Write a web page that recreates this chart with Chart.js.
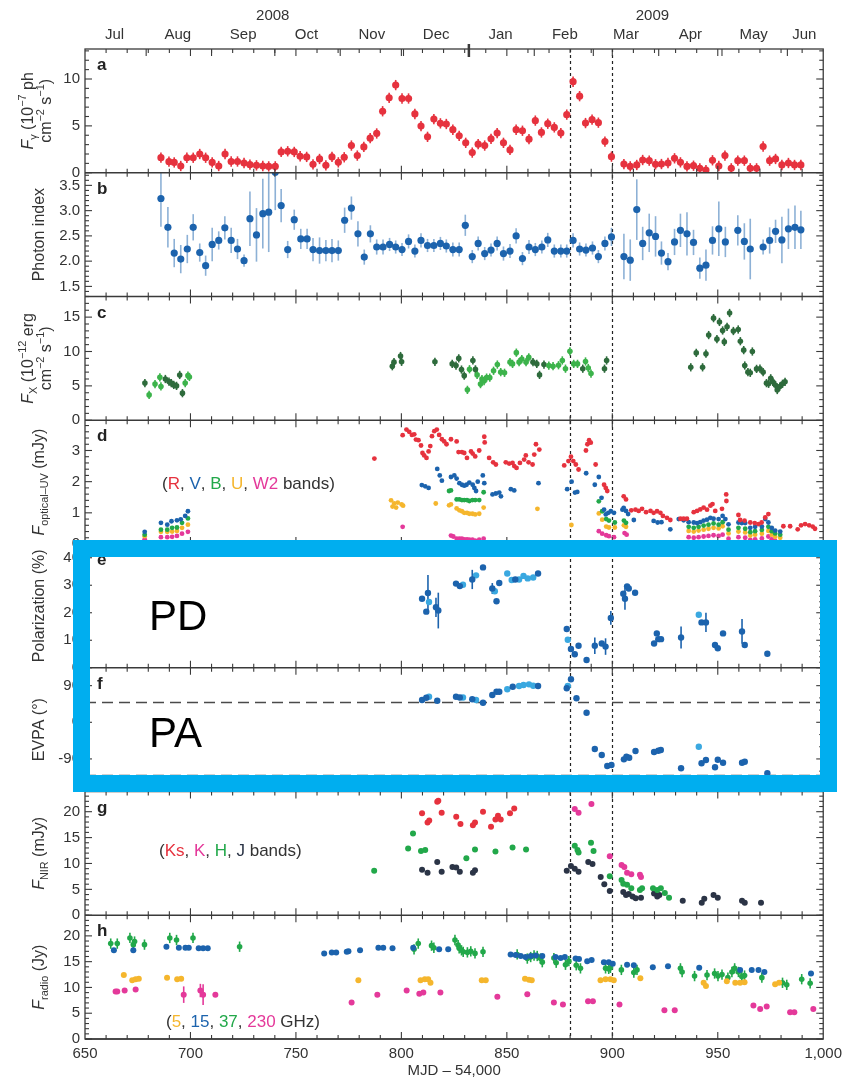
<!DOCTYPE html>
<html>
<head>
<meta charset="utf-8">
<script src="https://cdn.jsdelivr.net/npm/chart.js@4.4.1/dist/chart.umd.min.js"></script>
<style>
  html, body { margin: 0; padding: 0; background: #fff; }
  canvas { display: block; }
</style>
</head>
<body>
<canvas id="chart" width="848" height="1082"></canvas>
<script>
// ---- axis labels ----
const monthMid = [664, 694, 725, 755, 786, 816.5, 847, 877.5, 906.5, 937, 967, 991];
const monthNames = ['Jul', 'Aug', 'Sep', 'Oct', 'Nov', 'Dec', 'Jan', 'Feb', 'Mar', 'Apr', 'May', 'Jun'];
const monthStart = [679, 710, 740, 771, 801, 863, 891, 922, 952, 983];
const yearStart = 832;
const yearNames = ['2008', '2009'];
const yearMid = [739, 919];
const mjdTicks = [650, 700, 750, 800, 850, 900, 950, 1000];
const flareMJD = [880, 900];
const evpaRef = [50, -130];

// ---- a: gamma-ray flux (MJD, flux) ----
const gammaErr = 0.55;
const gammaPts = [[686.0,1.61],[689.8,1.18],[692.3,1.1],[695.4,0.72],[698.3,1.6],[701.3,1.6],[704.4,2.0],[707.2,1.6],[710.3,1.1],[713.4,0.72],[716.4,2.0],[719.3,1.2],[722.3,1.2],[725.4,1.04],[728.2,0.86],[731.3,0.79],[734.3,0.72],[737.1,0.68],[740.2,0.68],[743.0,2.22],[746.1,2.29],[749.2,2.22],[752.0,1.76],[755.1,1.69],[758.1,0.9],[761.2,1.47],[764.2,0.79],[767.1,1.69],[770.1,1.11],[772.9,1.65],[776.3,2.9],[779.1,1.83],[782.2,2.76],[785.2,3.69],[788.3,4.19],[791.1,6.56],[794.2,7.99],[797.3,9.35],[800.3,7.92],[803.4,7.92],[806.4,6.27],[809.3,4.98],[812.4,3.83],[815.4,5.73],[818.5,5.27],[821.3,5.2],[824.4,4.59],[827.4,3.94],[830.5,3.19],[833.6,2.15],[836.4,3.05],[839.5,2.9],[842.5,3.62],[845.4,4.23],[848.4,3.19],[851.5,2.44],[854.4,4.59],[857.4,4.48],[860.5,3.58],[863.5,5.56],[866.4,4.3],[869.4,5.23],[872.5,4.84],[875.6,4.23],[878.4,6.2],[881.4,9.71],[884.5,8.17],[887.3,5.3],[890.4,5.66],[893.4,5.34],[896.5,3.33],[899.6,1.72],[905.5,0.93],[908.5,0.68],[911.6,0.83],[914.4,1.36],[917.5,1.29],[920.5,0.9],[923.3,0.93],[926.4,1.04],[929.5,1.54],[932.3,1.11],[935.4,0.68],[938.5,0.75],[941.5,0.47],[944.4,0.29],[947.5,1.33],[950.5,0.72],[953.4,1.83],[956.4,0.47],[959.5,1.29],[962.6,1.29],[965.4,0.47],[968.4,0.47],[971.5,2.8],[974.6,1.29],[977.4,1.47],[980.4,0.83],[983.5,1.04],[986.4,0.83],[989.4,0.83]];

// ---- b: photon index (MJD, index, error) ----
const indexPts = [[686.0,3.24,0.56],[689.3,2.67,0.40],[692.3,2.16,0.28],[695.4,2.04,0.28],[698.5,2.24,0.28],[701.3,2.67,0.26],[704.4,2.17,0.18],[707.2,1.91,0.2],[710.3,2.33,0.33],[713.4,2.41,0.18],[716.3,2.66,0.23],[719.3,2.41,0.25],[722.3,2.24,0.2],[725.4,2.01,0.12],[728.2,2.84,0.54],[731.3,2.52,0.53],[734.3,2.94,0.69],[737.1,2.97,0.79],[740.2,3.76,0.75],[743.0,3.1,0.33],[746.1,2.23,0.17],[749.2,2.82,0.2],[752.3,2.44,0.2],[755.3,2.44,0.2],[758.1,2.23,0.23],[761.2,2.21,0.26],[764.2,2.21,0.21],[767.1,2.21,0.23],[770.1,2.21,0.2],[773.1,2.81,0.25],[776.3,3.05,0.23],[779.4,2.54,0.25],[782.4,2.08,0.15],[785.3,2.54,0.17],[788.3,2.28,0.15],[791.3,2.28,0.15],[794.4,2.33,0.13],[797.3,2.28,0.13],[800.3,2.23,0.13],[803.4,2.39,0.14],[806.4,2.2,0.13],[809.3,2.41,0.14],[812.4,2.31,0.13],[815.4,2.31,0.13],[818.5,2.35,0.13],[821.3,2.3,0.13],[824.4,2.23,0.14],[827.4,2.23,0.14],[830.3,2.71,0.21],[833.6,2.09,0.13],[836.4,2.35,0.14],[839.5,2.15,0.13],[842.5,2.22,0.13],[845.4,2.35,0.14],[848.4,2.15,0.14],[851.5,2.2,0.14],[854.4,2.5,0.15],[857.4,2.05,0.13],[860.5,2.28,0.14],[863.5,2.23,0.13],[866.6,2.28,0.13],[869.4,2.42,0.14],[872.5,2.2,0.13],[875.6,2.2,0.13],[878.4,2.2,0.13],[881.4,2.41,0.14],[884.5,2.24,0.13],[887.5,2.22,0.13],[890.6,2.26,0.13],[893.4,2.09,0.13],[896.5,2.35,0.14],[899.6,2.48,0.18],[905.5,2.09,0.45],[908.5,2.02,0.41],[911.6,3.02,0.6],[914.4,2.35,0.33],[917.5,2.56,0.38],[920.5,2.49,0.4],[923.3,2.16,0.23],[926.4,1.99,0.17],[929.5,2.38,0.26],[932.3,2.61,0.33],[935.4,2.54,0.43],[938.5,2.37,0.25],[941.5,1.86,0.21],[944.4,1.92,0.31],[947.5,2.41,0.28],[950.5,2.64,0.54],[953.6,2.38,0.3],[959.5,2.61,0.3],[962.6,2.39,0.36],[965.4,2.24,0.6],[971.5,2.28,0.15],[974.6,2.41,0.26],[977.4,2.59,0.23],[980.4,2.42,0.46],[983.5,2.64,0.4],[986.6,2.67,0.43],[989.4,2.62,0.38]];

// ---- c: X-ray flux (MJD, flux) ----
const xrayErr = 0.6;
const xrayDark = [[678.4,5.41],[688.1,6.0],[689.8,5.63],[690.9,5.4],[692.1,5.14],[693.4,5.0],[694.9,6.59],[696.2,3.94],[795.7,7.86],[796.5,8.45],[799.6,9.34],[800.1,8.5],[815.9,8.5],[824.1,8.2],[825.9,7.96],[827.2,9.0],[828.5,7.37],[829.8,6.49],[833.9,8.7],[835.1,7.4],[862.4,8.45],[864.2,8.2],[865.5,6.6],[867.6,8.1],[886.0,7.5],[896.3,7.5],[897.3,8.7],[937.2,7.7],[939.8,9.8],[942.8,7.7],[944.4,9.68],[945.7,12.39],[948.0,14.85],[949.6,11.8],[950.8,14.3],[952.3,13.06],[953.1,11.4],[954.4,13.6],[955.6,15.6],[957.4,12.98],[959.7,13.2],[960.7,11.5],[962.3,10.2],[962.8,7.96],[964.3,7.0],[965.4,6.9],[966.4,10.0],[968.4,7.47],[970.0,7.5],[971.5,7.0],[973.1,5.4],[974.1,5.3],[975.1,6.1],[976.1,5.6],[977.4,5.1],[978.2,4.4],[979.4,4.9],[980.7,5.3],[981.9,5.6]];
const xrayLight = [[680.4,3.69],[683.2,5.26],[685.5,6.24],[686.0,4.92],[697.5,5.41],[698.8,6.49],[699.5,6.3],[831.3,4.42],[832.3,7.42],[835.9,6.6],[837.5,5.26],[838.2,6.0],[839.2,5.7],[840.4,6.2],[841.9,6.2],[843.7,7.2],[845.5,8.1],[847.1,7.0],[848.9,6.9],[851.5,8.45],[852.7,8.2],[854.5,9.83],[855.8,8.45],[857.1,8.9],[859.1,8.45],[860.4,9.14],[869.9,7.96],[871.9,7.86],[874.5,8.0],[876.3,8.7],[877.8,7.5],[879.9,10.03],[881.7,8.2],[883.5,8.2],[887.3,8.55],[888.6,7.6],[889.9,6.8]];

// ---- d: optical-UV flux (MJD, mJy) ----
const bandR = [[787.2,2.74],[800.6,3.49],[802.4,3.67],[803.7,3.6],[805.0,3.5],[806.1,3.52],[806.9,3.35],[808.1,3.33],[809.3,3.16],[810.0,2.92],[810.8,2.84],[811.9,2.76],[812.9,2.97],[813.7,3.14],[814.5,3.46],[815.6,3.62],[816.8,3.67],[817.9,3.5],[819.2,3.36],[820.3,3.29],[821.4,3.2],[823.5,3.36],[826.2,3.29],[827.1,2.95],[828.7,2.95],[829.8,2.92],[831.1,2.76],[833.0,2.97],[833.8,2.9],[835.0,2.81],[836.9,3.0],[839.3,3.44],[839.5,3.26],[841.6,2.76],[843.5,2.62],[844.8,2.55],[849.5,2.62],[851.1,2.58],[852.7,2.6],[853.5,2.5],[854.6,2.44],[856.2,2.6],[858.2,2.71],[859.0,2.84],[860.3,2.62],[862.2,2.55],[863.0,2.87],[863.8,3.2],[865.4,3.03],[877.2,2.52],[879.2,2.66],[880.4,2.8],[881.5,2.66],[882.7,2.55],[884.0,2.39],[887.5,3.0],[888.2,3.2],[889.0,3.33],[889.8,3.25],[892.1,2.55],[896.1,1.9],[896.9,1.8],[897.6,1.7],[905.4,1.53],[906.5,1.43],[909.0,1.08],[911.0,1.1],[912.5,1.06],[914.1,1.13],[916.0,1.02],[918.1,1.06],[919.6,1.0],[921.2,1.05],[922.8,1.0],[924.0,0.9],[925.9,0.84],[927.5,0.77],[932.3,0.81],[933.8,0.81],[935.4,0.81],[938.6,1.02],[940.2,1.06],[941.7,1.11],[943.3,1.17],[944.9,1.1],[946.5,1.23],[947.5,1.28],[948.8,1.06],[952.0,1.13],[954.0,1.59],[954.1,1.38],[959.8,0.93],[960.6,0.77],[962.7,0.75],[965.4,0.69],[967.5,0.67],[969.3,0.64],[970.8,0.69],[972.5,0.85],[974.0,0.96],[981.1,0.57],[984.3,0.57],[987.9,0.47],[989.5,0.6],[991.4,0.64],[993.3,0.6],[995.0,0.56],[996.1,0.49]];
const bandV = [[678.3,0.39],[686.0,0.68],[689.0,0.62],[691.0,0.73],[693.6,0.76],[695.4,0.79],[697.5,0.9],[698.8,1.05],[809.7,1.89],[811.3,1.85],[812.9,1.8],[817.0,2.41],[818.2,2.2],[819.2,2.03],[823.5,2.15],[825.1,2.2],[826.2,2.1],[827.5,1.95],[828.7,1.9],[829.8,1.87],[830.9,1.9],[832.2,1.97],[833.8,1.9],[834.6,1.8],[835.4,1.7],[836.2,2.0],[838.6,2.2],[839.3,1.95],[843.2,1.59],[844.8,1.62],[846.4,1.65],[847.2,1.53],[851.9,1.76],[853.5,1.72],[865.0,1.95],[878.6,1.76],[880.7,2.0],[882.3,1.65],[883.4,1.67],[887.6,2.27],[891.7,1.9],[893.6,2.15],[894.9,1.48],[896.1,1.1],[896.9,0.95],[898.1,1.0],[899.3,1.05],[900.8,1.0],[904.8,1.1],[905.4,1.16],[906.5,1.06],[907.5,0.96],[910.2,0.77],[919.6,0.74],[921.5,0.69],[923.3,0.7],[927.5,0.47],[931.5,0.8],[933.8,0.76],[936.2,0.7],[938.6,0.69],[940.2,0.67],[941.7,0.7],[943.3,0.75],[944.9,0.78],[946.5,0.84],[948.0,0.81],[950.4,0.8],[952.3,0.9],[953.6,0.8],[955.1,0.63],[959.8,0.69],[961.4,0.67],[963.0,0.67],[965.4,0.52],[967.7,0.55],[970.9,0.56],[972.5,0.8],[974.0,0.69],[975.6,0.52],[977.2,0.43],[979.6,0.4]];
const bandB = [[678.3,0.3],[686.0,0.46],[689.0,0.46],[691.3,0.52],[693.6,0.53],[696.0,0.68],[698.8,0.82],[822.6,1.7],[823.5,1.72],[826.2,1.43],[827.5,1.43],[828.7,1.41],[829.8,1.41],[831.1,1.41],[832.2,1.38],[833.7,1.41],[835.0,1.41],[836.9,1.41],[839.0,1.66],[893.6,1.37],[895.2,1.05],[897.1,0.8],[898.4,0.75],[901.2,0.69],[905.5,0.75],[906.5,0.68],[936.2,0.55],[938.6,0.52],[940.9,0.55],[943.3,0.59],[945.6,0.62],[948.0,0.66],[950.4,0.62],[952.3,0.7],[955.1,0.46],[959.8,0.52],[963.0,0.49],[965.4,0.38],[967.7,0.41],[970.9,0.45],[974.0,0.55],[975.6,0.41],[977.2,0.34],[979.6,0.3]];
const bandU = [[678.3,0.25],[686.0,0.39],[689.0,0.39],[691.3,0.4],[693.6,0.42],[696.0,0.52],[698.8,0.62],[795.1,1.4],[795.8,1.2],[796.6,1.3],[797.5,1.17],[798.3,1.33],[800.1,1.27],[800.8,1.23],[816.3,1.3],[822.6,1.24],[823.5,1.27],[826.2,1.14],[827.5,1.08],[828.7,1.05],[829.8,1.0],[831.1,1.0],[832.2,0.97],[833.7,0.97],[835.0,0.95],[836.9,0.97],[839.0,1.17],[864.5,1.13],[880.6,0.61],[893.6,0.98],[895.2,0.78],[897.1,0.56],[898.4,0.53],[901.2,0.53],[905.5,0.6],[906.5,0.55],[936.2,0.42],[938.6,0.4],[940.9,0.43],[943.3,0.46],[945.6,0.49],[948.0,0.52],[950.4,0.5],[952.3,0.57],[955.1,0.34],[959.8,0.4],[963.0,0.37],[965.4,0.27],[967.7,0.3],[970.9,0.33],[974.0,0.42],[975.6,0.3],[977.2,0.23],[979.6,0.2]];
const bandW2 = [[678.3,0.15],[686.0,0.22],[689.0,0.22],[691.3,0.23],[693.6,0.26],[696.0,0.33],[698.8,0.39],[800.6,0.55],[823.5,0.27],[824.6,0.24],[826.2,0.17],[827.5,0.17],[828.7,0.17],[829.8,0.15],[831.1,0.15],[832.2,0.14],[833.7,0.14],[835.0,0.11],[836.9,0.14],[839.0,0.17],[893.6,0.41],[895.2,0.33],[897.1,0.28],[898.4,0.25],[900.8,0.22],[905.8,0.35],[906.8,0.3],[936.2,0.22],[938.6,0.2],[940.9,0.22],[943.3,0.24],[945.6,0.26],[948.0,0.28],[950.4,0.26],[952.3,0.3],[955.1,0.17],[959.8,0.22],[963.0,0.2],[965.4,0.13],[967.7,0.15],[970.9,0.18],[974.0,0.24],[975.6,0.15],[977.2,0.1]];

// ---- e: polarization degree (MJD, %, error) ----
const pdDark = [[809.8,25.1],[811.8,20.4],[812.6,27.2,6.5],[816.4,22,3.5],[817.5,20.8,6.5],[825.9,30.6],[827.7,29.7],[833.6,32.1,3.5],[838.7,36.5],[843.1,28.8,2],[845.1,24.2],[846.4,30.8],[854.0,32.1],[864.8,34.3],[878.4,14.1],[880.4,6.8],[882.2,4.9],[884.0,8.0],[887.8,2.8],[891.7,8.0,3],[895.0,8.8],[896.8,7.7,3],[899.3,18.1,2.5],[905.2,26.9],[906.0,25.1,4],[907.0,29.6],[907.8,28.8],[910.8,27.3],[919.8,8.8],[921.1,12.5],[921.8,10.4],[923.1,10.4],[932.6,11.0,4],[942.3,16.5],[944.4,16.5,3.5],[948.7,8.3],[950.0,7.1],[952.5,12.5],[961.5,13.2,4.5],[962.8,8.3],[973.5,5.1]];
const pdLight = [[813.1,23.9],[829.2,30.2],[835.4,33.6],[844.3,27.8],[850.2,34.3],[852.3,31.9],[855.8,32.1],[857.9,33.4],[859.9,32.5],[862.5,32.8],[878.9,10.2],[941.0,19.3]];

// ---- f: EVPA (MJD, deg) ----
const paDark = [[809.8,54.8],[811.8,60.4],[817.0,53.1],[825.9,62.9],[827.7,61],[833.6,56.5],[838.7,48.2],[843.1,67],[845.1,75.2],[846.4,75.2],[852.8,87.5],[864.8,89.2],[878.4,83.5],[880.4,105.6],[883.0,59],[887.8,23.6],[891.7,-65.6],[895.0,-80.3],[897.6,-107.4],[899.6,-105],[905.5,-91],[906.7,-84.5],[908.0,-87],[911.0,-70.5],[919.8,-72.8],[921.8,-70],[923.0,-68],[932.6,-113],[942.3,-100.7],[944.4,-92.6],[948.7,-110.6],[950.0,-92],[952.5,-99.3],[961.5,-99.3],[962.8,-97],[973.5,-125.3]];
const paLight = [[813.1,62.9],[829.2,61],[835.4,54.8],[850.2,81],[855.8,89.2],[857.9,91.6],[860.5,93.2],[862.5,89.9],[878.9,89],[941.0,-60]];

// ---- g: near-IR flux (MJD, mJy) ----
const nirKs = [[809.8,19.7],[812.4,17.9],[813.2,18.3],[817.0,21.9],[817.5,22.1],[819.1,19.8],[826.0,19.0],[828.0,17.6],[833.9,17.4],[834.9,17.9],[838.7,20.0],[842.5,17.1],[844.6,18.5],[845.8,19.2],[847.1,18.5],[851.5,19.7],[853.5,20.6]];
const nirK = [[882.2,20.5],[884.0,19.8],[890.1,21.5],[898.8,11.4],[904.4,9.7],[905.7,9.3],[907.0,8.2],[909.0,7.9],[913.1,7.8],[913.6,7.4]];
const nirH = [[787.1,8.6],[803.2,12.9],[805.5,15.8],[809.3,12.4],[811.3,12.6],[830.8,11.0],[834.9,12.7],[844.6,12.3],[852.7,13.1],[859.1,12.7],[882.2,13.4],[883.5,12.6],[884.0,12.1],[889.9,14.0],[891.1,12.4],[898.8,7.55],[904.4,6.8],[905.2,6.1],[907.0,5.9],[909.0,5.2],[913.1,4.9],[914.1,5.2],[919.3,5.2],[921.3,4.9],[923.0,5.2],[924.9,4.3],[926.9,3.4]];
const nirJ = [[809.8,8.8],[812.4,8.2],[817.0,10.3],[819.1,8.4],[824.2,9.3],[826.0,9.2],[827.7,8.4],[833.9,8.2],[834.9,8.7],[878.4,8.6],[880.4,9.5],[882.2,9.0],[884.0,8.4],[888.6,10.3],[890.6,9.9],[894.5,7.4],[896.2,6.0],[898.8,4.7],[905.2,4.5],[906.5,3.9],[907.8,4.1],[909.6,3.6],[911.1,3.3],[913.6,3.4],[919.8,4.2],[921.3,3.6],[922.3,3.9],[933.4,2.8],[942.4,2.4],[943.6,3.2],[948.0,3.9],[950.0,3.4],[961.5,2.8],[962.8,2.4],[970.5,2.4]];

// ---- h: radio flux (MJD, Jy, error) ----
const ghz37Err = 1.0;
const ghz5 = [[668.4,12.4],[672.4,11.4],[674.0,11.6],[675.5,11.7],[688.9,11.9],[693.7,11.6],[695.6,11.7],[779.6,11.4],[809.1,11.4],[811.1,11.6],[812.7,11.6],[813.8,10.9],[838.1,11.4],[840.0,11.4],[858.6,11.7],[860.5,11.5],[861.8,11.4],[894.4,11.4],[896.8,11.6],[899.1,11.6],[900.7,11.4],[913.3,11.8],[943.3,10.9],[944.4,10.3],[954.3,11.2],[958.3,10.9],[960.6,10.9],[962.7,11.0],[977.2,10.6],[979.1,10.9]];
const ghz15 = [[663.7,17.2],[672.9,17.2],[688.6,17.9],[694.5,17.7],[697.6,17.7],[699.2,17.7],[703.9,17.6],[706.0,17.6],[708.2,17.6],[763.4,16.6],[767.0,16.8],[769.1,16.8],[774.1,16.9],[774.9,17.0],[780.4,17.2],[789.1,17.7],[791.4,17.7],[795.8,17.6],[805.6,17.7],[817.9,17.4],[822.2,17.4],[851.8,16.4],[854.2,16.3],[856.6,16.1],[858.9,15.9],[861.3,16.1],[863.7,16.2],[866.8,16.1],[873.1,15.9],[875.5,15.7],[877.5,15.9],[882.6,15.6],[884.2,15.5],[888.1,15.1],[890.2,15.3],[896.0,14.9],[898.3,14.9],[900.2,14.6],[907.0,14.4],[910.2,14.3],[919.2,13.9],[926.4,14.1],[941.2,13.8],[960.6,13.4],[966.1,13.4],[969.3,13.4],[972.1,13.0],[994.2,12.7]];
const ghz37 = [[662.2,18.5],[665.3,18.5],[671.3,19.6],[672.9,18.3],[673.5,18.9],[678.2,18.3],[690.2,19.6],[693.4,19.2],[701.2,19.6],[723.3,17.9],[806.0,17.4],[808.0,18.5],[814.3,18.1],[815.4,17.7],[825.4,19.2],[826.9,18.2],[827.4,17.6],[828.5,17.2],[829.3,16.9],[831.3,16.8],[832.9,17.0],[834.9,16.6],[838.7,16.9],[854.9,16.4],[859.7,15.6],[861.3,15.9],[862.9,16.2],[864.4,16.1],[866.0,15.6],[866.8,14.9],[872.3,15.7],[873.4,14.8],[877.8,14.4],[879.4,15.1],[882.9,14.3],[884.9,13.7],[896.8,13.7],[898.3,13.6],[899.1,13.8],[904.3,13.4],[910.2,12.9],[911.7,13.4],[932.3,13.7],[933.1,13.0],[939.0,12.2],[944.9,12.4],[948.5,12.7],[950.1,12.2],[952.0,12.5],[954.8,11.9],[956.7,13.0],[958.0,13.7],[959.8,13.0],[961.4,12.1],[962.7,12.3],[970.9,11.9],[980.7,10.9],[982.7,10.5],[989.8,11.6],[993.8,10.8]];
const ghz230 = [[664.5,9.2],[665.3,9.2],[668.8,9.4],[674.0,9.6],[696.8,8.6,1.6],[704.7,9.4,1.3],[706.0,8.6,2.0],[711.8,8.6],[776.4,7.1],[788.6,8.6],[802.5,9.4],[808.5,8.8],[810.4,9.0],[818.5,9.0],[845.5,8.2],[859.7,8.7],[872.3,7.1],[876.6,6.7],[888.5,7.3],[890.8,7.3],[903.4,6.7],[924.7,5.6],[929.6,5.6],[966.9,6.5],[970.1,5.8],[973.2,6.3],[984.3,5.2],[986.3,5.2],[995.3,5.8]];

// ---- look ----
const FONT = "'Liberation Sans Narrow', 'Arial Narrow', 'Liberation Sans', Arial, sans-serif";
const INK = '#333333';
const RED = '#e6323e', BLUE = '#1c63ad', LBLUE = '#3aa8e0', GREEN = '#22a84a', DGREEN = '#2e6b3c',
      ORANGE = '#f5b62d', MAGENTA = '#e4399a', NAVY = '#2b3446';

const PANELS = [
  { id: 'ya', letter: 'a', min: 0, max: 13.2, ticks: [0, 5, 10], minor: 1, major: 5 },
  { id: 'yb', letter: 'b', min: 1.3, max: 3.75, ticks: [1.5, 2, 2.5, 3, 3.5], minor: 0.1, major: 0.5, dec: 1 },
  { id: 'yc', letter: 'c', min: 0, max: 18, ticks: [0, 5, 10, 15], minor: 1, major: 5 },
  { id: 'yd', letter: 'd', min: 0, max: 3.97, ticks: [0, 1, 2, 3], minor: 0.2, major: 1 },
  { id: 'ye', letter: 'e', min: 0, max: 45, ticks: [0, 10, 20, 30, 40], minor: 2, major: 10 },
  { id: 'yf', letter: 'f', min: -170, max: 134, ticks: [-90, 0, 90], minor: 30, major: 90 },
  { id: 'yg', letter: 'g', min: 0, max: 23.9, ticks: [0, 5, 10, 15, 20], minor: 1, major: 5 },
  { id: 'yh', letter: 'h', min: 0, max: 24, ticks: [0, 5, 10, 15, 20], minor: 1, major: 5 },
];

function series(arr, axis, color, r, err, errColor) {
  return {
    data: arr.map(p => ({ x: p[0], y: p[1], e: p.length > 2 ? p[2] : err })),
    yAxisID: axis,
    backgroundColor: color,
    borderColor: color,
    borderWidth: 0,
    pointRadius: r,
    pointHoverRadius: r,
    errColor: errColor || color,
  };
}

const datasets = [
  series(gammaPts, 'ya', RED, 3.6, gammaErr),
  series(indexPts, 'yb', BLUE, 3.6, 0, 'rgba(28,99,173,0.5)'),
  series(xrayLight, 'yc', '#3cb34b', 2.8, xrayErr),
  series(xrayDark, 'yc', DGREEN, 2.8, xrayErr),
  series(bandR, 'yd', RED, 2.4, 0),
  series(bandV, 'yd', BLUE, 2.4, 0),
  series(bandB, 'yd', GREEN, 2.4, 0),
  series(bandU, 'yd', ORANGE, 2.4, 0),
  series(bandW2, 'yd', MAGENTA, 2.4, 0),
  series(pdDark, 'ye', BLUE, 3.2, 0),
  series(pdLight, 'ye', LBLUE, 3.2, 0),
  series(paDark, 'yf', BLUE, 3.2, 0),
  series(paLight, 'yf', LBLUE, 3.2, 0),
  series(nirH, 'yg', GREEN, 3, 0),
  series(nirJ, 'yg', NAVY, 3, 0),
  series(nirKs, 'yg', RED, 3, 0),
  series(nirK, 'yg', MAGENTA, 3, 0),
  series(ghz15, 'yh', BLUE, 3, 0),
  series(ghz5, 'yh', ORANGE, 3, 0),
  series(ghz230, 'yh', MAGENTA, 3, 0),
  series(ghz37, 'yh', GREEN, 2.8, ghz37Err),
];

const tickFont = { family: FONT, size: 15 };

const scales = {
  x: {
    type: 'linear', position: 'bottom', min: 650, max: 1000,
    afterFit: s => { s.height = 43; },
    afterBuildTicks: s => { s.ticks = mjdTicks.map(v => ({ value: v })); },
    ticks: { autoSkip: false, maxRotation: 0, padding: 6, color: INK, font: tickFont,
      callback: v => v >= 1000 ? v.toLocaleString('en-US') : String(v) },
    grid: { display: false, drawTicks: false }, border: { display: false },
    title: { display: true, text: 'MJD – 54,000', color: INK, font: tickFont, padding: { top: 2, bottom: 2 } },
  },
  xTop: {
    type: 'linear', position: 'top', min: 650, max: 1000,
    afterFit: s => { s.height = 49; },
    afterBuildTicks: s => { s.ticks = monthMid.map(v => ({ value: v })); },
    ticks: { autoSkip: false, maxRotation: 0, padding: 5, color: INK, font: tickFont,
      callback: (v, i) => monthNames[i] },
    grid: { display: false, drawTicks: false }, border: { display: false },
  },
};
PANELS.forEach((p, i) => {
  scales[p.id] = {
    type: 'linear', position: 'left', stack: 'panels', stackWeight: 1, weight: PANELS.length - i,
    min: p.min, max: p.max,
    afterFit: s => { s.width = 85; },
    afterBuildTicks: s => { s.ticks = p.ticks.map(v => ({ value: v })); },
    ticks: { autoSkip: false, padding: 5, color: INK, font: tickFont,
      callback: v => p.dec ? v.toFixed(p.dec) : String(v) },
    grid: { display: false, drawTicks: false }, border: { display: false },
  };
});

// y-axis titles: [text, mode] with mode '' | 'i' | 'sub' | 'sup'
const yTitles = {
  ya: [[['F', 'i'], ['γ', 'sub'], [' (10', ''], ['−7', 'sup'], [' ph', '']], [['cm', ''], ['−2', 'sup'], [' s', ''], ['−1', 'sup'], [')', '']]],
  yb: [[['Photon index', '']]],
  yc: [[['F', 'i'], ['X', 'sub'], [' (10', ''], ['−12', 'sup'], [' erg', '']], [['cm', ''], ['−2', 'sup'], [' s', ''], ['−1', 'sup'], [')', '']]],
  yd: [[['F', 'i'], ['optical–UV', 'sub'], [' (mJy)', '']]],
  ye: [[['Polarization (%)', '']]],
  yf: [[['EVPA (°)', '']]],
  yg: [[['F', 'i'], ['NIR', 'sub'], [' (mJy)', '']]],
  yh: [[['F', 'i'], ['radio', 'sub'], [' (Jy)', '']]],
};

const legends = {
  yd: [['(', INK], ['R', RED], [', ', INK], ['V', BLUE], [', ', INK], ['B', GREEN], [', ', INK], ['U', ORANGE], [', ', INK], ['W2', MAGENTA], [' bands)', INK]],
  yg: [['(', INK], ['Ks', RED], [', ', INK], ['K', MAGENTA], [', ', INK], ['H', GREEN], [', ', INK], ['J', NAVY], [' bands)', INK]],
  yh: [['(', INK], ['5', ORANGE], [', ', INK], ['15', BLUE], [', ', INK], ['37', GREEN], [', ', INK], ['230', MAGENTA], [' GHz)', INK]],
};

function drawRotated(ctx, parts, cx, cy, size) {
  ctx.save();
  ctx.translate(cx, cy);
  ctx.rotate(-Math.PI / 2);
  ctx.textBaseline = 'middle';
  ctx.textAlign = 'left';
  let w = 0;
  const items = parts.map(([t, m]) => {
    const small = m === 'sub' || m === 'sup';
    const font = (m === 'i' ? 'italic ' : '') + (small ? size * 0.68 : size) + 'px ' + FONT;
    ctx.font = font;
    const tw = ctx.measureText(t).width;
    w += tw;
    return { t, m, font, tw };
  });
  let x = -w / 2;
  ctx.fillStyle = INK;
  items.forEach(it => {
    ctx.font = it.font;
    const dy = it.m === 'sub' ? size * 0.32 : it.m === 'sup' ? -size * 0.36 : 0;
    ctx.fillText(it.t, x, dy);
    x += it.tw;
  });
  ctx.restore();
}

function drawParts(ctx, parts, x, y) {
  ctx.save();
  ctx.font = '17px ' + FONT;
  ctx.textBaseline = 'middle';
  ctx.textAlign = 'left';
  parts.forEach(([t, c]) => {
    ctx.fillStyle = c;
    ctx.fillText(t, x, y);
    x += ctx.measureText(t).width;
  });
  ctx.restore();
}

function seg(ctx, x1, y1, x2, y2) {
  ctx.beginPath();
  ctx.moveTo(x1, y1);
  ctx.lineTo(x2, y2);
  ctx.stroke();
}

const decorations = {
  id: 'decorations',
  beforeDatasetsDraw(chart) {
    const { ctx, chartArea: ca, scales: sc } = chart;
    const x = sc.x;
    ctx.save();
    ctx.strokeStyle = '#222';
    ctx.lineWidth = 1.2;
    ctx.setLineDash([3, 3]);
    flareMJD.forEach(v => {
      const px = Math.round(x.getPixelForValue(v)) + 0.5;
      seg(ctx, px, ca.top, px, ca.bottom);
    });
    ctx.strokeStyle = '#4a4a4a';
    ctx.lineWidth = 1.5;
    ctx.setLineDash([11, 6]);
    evpaRef.forEach(v => {
      const py = Math.round(sc.yf.getPixelForValue(v)) + 0.5;
      seg(ctx, ca.left, py, ca.right, py);
    });
    ctx.setLineDash([]);
    ctx.lineWidth = 1.6;
    chart.data.datasets.forEach(d => {
      const ys = sc[d.yAxisID];
      ctx.strokeStyle = d.errColor;
      d.data.forEach(p => {
        if (!p.e) return;
        const px = x.getPixelForValue(p.x);
        const y1 = Math.max(ys.top, ys.getPixelForValue(p.y + p.e));
        const y2 = Math.min(ys.bottom, ys.getPixelForValue(p.y - p.e));
        seg(ctx, px, y1, px, y2);
      });
    });
    ctx.restore();
  },
  afterDraw(chart) {
    const { ctx, chartArea: ca, scales: sc } = chart;
    const x = sc.x;
    ctx.save();
    ctx.strokeStyle = '#3a3a3a';
    ctx.lineWidth = 1.3;
    ctx.strokeRect(ca.left, ca.top, ca.right - ca.left, ca.bottom - ca.top);

    PANELS.forEach(p => {
      const s = sc[p.id];
      ctx.lineWidth = 1.3;
      seg(ctx, ca.left, s.bottom, ca.right, s.bottom);
      ctx.lineWidth = 1.1;
      for (let v = 660; v < 1000; v += 10) {
        const px = x.getPixelForValue(v);
        const L = v % 50 === 0 ? 7 : 4;
        seg(ctx, px, s.top, px, s.top + L);
        seg(ctx, px, s.bottom, px, s.bottom - L);
      }
      for (let k = Math.ceil(p.min / p.minor - 1e-6); k * p.minor <= p.max + 1e-9; k++) {
        const v = k * p.minor;
        const py = s.getPixelForValue(v);
        const r = v / p.major;
        const L = Math.abs(r - Math.round(r)) < 1e-6 ? 7 : 4;
        seg(ctx, ca.left, py, ca.left + L, py);
        seg(ctx, ca.right, py, ca.right - L, py);
      }
      ctx.fillStyle = '#222';
      ctx.font = 'bold 17px ' + FONT;
      ctx.textBaseline = 'alphabetic';
      ctx.textAlign = 'left';
      ctx.fillText(p.letter, ca.left + 12, s.top + 21);

      const lines = yTitles[p.id];
      const cy = (s.top + s.bottom) / 2;
      if (lines.length === 2) {
        drawRotated(ctx, lines[0], 29, cy, 16);
        drawRotated(ctx, lines[1], 47, cy, 16);
      } else {
        drawRotated(ctx, lines[0], 40, cy, 16);
      }
    });

    // month ticks on the top border
    ctx.lineWidth = 1.1;
    monthStart.forEach(v => {
      const px = x.getPixelForValue(v);
      seg(ctx, px, ca.top, px, ca.top + 7);
    });
    ctx.lineWidth = 2.5;
    const py0 = x.getPixelForValue(yearStart);
    seg(ctx, py0, ca.top - 5, py0, ca.top + 8);

    ctx.fillStyle = INK;
    ctx.font = '15px ' + FONT;
    ctx.textAlign = 'center';
    ctx.textBaseline = 'middle';
    yearNames.forEach((t, i) => ctx.fillText(t, x.getPixelForValue(yearMid[i]), 16));

    drawParts(ctx, legends.yd, 162, 484);
    drawParts(ctx, legends.yg, 159, 851);
    drawParts(ctx, legends.yh, 166, 1022);

    // highlight box over panels e and f
    ctx.strokeStyle = '#00aeef';
    ctx.lineWidth = 17;
    ctx.strokeRect(81.5, 548.5, 747, 235);

    ctx.fillStyle = '#000';
    ctx.font = '42px "Liberation Sans", Arial, sans-serif';
    ctx.textAlign = 'left';
    ctx.textBaseline = 'alphabetic';
    ctx.fillText('PD', 149, 630);
    ctx.fillText('PA', 149, 747);
    ctx.restore();
  },
};

new Chart(document.getElementById('chart'), {
  type: 'scatter',
  data: { datasets },
  options: {
    responsive: false,
    animation: false,
    devicePixelRatio: 1,
    events: [],
    layout: { padding: { left: 0, right: 23, top: 0, bottom: 0 } },
    plugins: { legend: { display: false }, tooltip: { enabled: false } },
    scales,
  },
  plugins: [decorations],
});
</script>
</body>
</html>
